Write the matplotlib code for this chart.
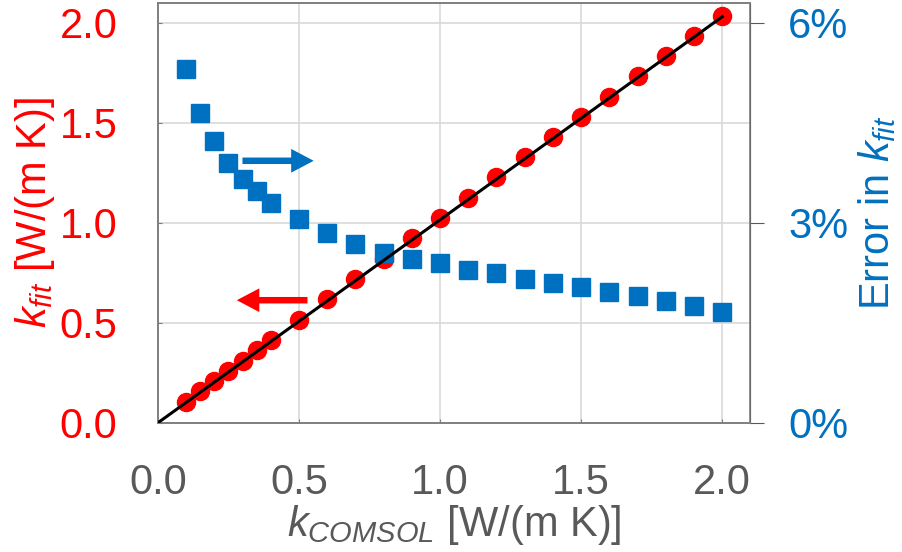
import matplotlib
matplotlib.use('Agg')
import matplotlib.pyplot as plt

plt.rcParams['font.family'] = 'Liberation Sans'
plt.rcParams['mathtext.fontset'] = 'custom'
plt.rcParams['mathtext.rm'] = 'Liberation Sans'
plt.rcParams['mathtext.it'] = 'Liberation Sans:italic'

# conductividade de referência (COMSOL) e valor ajustado
k_comsol = [0.1, 0.15, 0.2, 0.25, 0.3, 0.35, 0.4, 0.5, 0.6, 0.7, 0.8, 0.9,
            1.0, 1.1, 1.2, 1.3, 1.4, 1.5, 1.6, 1.7, 1.8, 1.9, 2.0]
k_fit = [0.105, 0.157, 0.208, 0.260, 0.311, 0.362, 0.413, 0.515, 0.617,
         0.719, 0.820, 0.922, 1.024, 1.125, 1.227, 1.328, 1.429, 1.531,
         1.631, 1.732, 1.833, 1.933, 2.033]
# erro relativo em k_fit (%)
erro_pct = [5.30, 4.65, 4.23, 3.90, 3.65, 3.47, 3.30, 3.05, 2.85, 2.68,
            2.55, 2.46, 2.39, 2.29, 2.24, 2.16, 2.10, 2.04, 1.96, 1.90,
            1.83, 1.75, 1.66]
# reta de referência
reta_x = [0.0, 2.0]
reta_y = [0.0, 2.03]

ticks_k = [0.0, 0.5, 1.0, 1.5, 2.0]
ticks_k_labels = ['0.0', '0.5', '1.0', '1.5', '2.0']
ticks_erro = [0, 3, 6]
ticks_erro_labels = ['0%', '3%', '6%']

VERMELHO = '#FF0000'
AZUL = '#0070C0'
CINZA = '#595959'
FS = 30

fig = plt.figure(figsize=(9.02, 5.52), dpi=100)
ax = fig.add_axes([0.175, 0.234, 0.657, 0.761])
ax2 = ax.twinx()

ax.plot(k_comsol, k_fit, 'o', color=VERMELHO, markersize=13, zorder=3)
ax2.plot(k_comsol, erro_pct, 's', color=AZUL, markersize=12.5, zorder=3)
ax2.plot(reta_x, reta_y, '-', color='black', linewidth=2.2, zorder=4,
         transform=ax.transData)

ax.set_xlim(0, 2.1)
ax.set_ylim(0, 2.1)
ax2.set_ylim(0, 6.3)

ax.set_xticks(ticks_k, ticks_k_labels)
ax.set_yticks(ticks_k, ticks_k_labels)
ax2.set_yticks(ticks_erro, ticks_erro_labels)

ax.grid(True, color='#d9d9d9', linewidth=1.2)
ax.set_axisbelow(True)

ax.tick_params(axis='x', colors=CINZA, labelsize=FS, direction='in', length=3, pad=29)
ax.tick_params(axis='y', colors=VERMELHO, labelsize=FS, direction='in', length=3, pad=29)
ax.tick_params(axis='y', color='#7f7f7f')
ax.tick_params(axis='x', color='#7f7f7f')
ax2.tick_params(axis='y', colors=AZUL, labelsize=FS, direction='out', length=10, pad=17)
ax2.tick_params(axis='y', color='#595959')

for s in ['left', 'bottom', 'top']:
    ax.spines[s].set_color('#7f7f7f')
    ax.spines[s].set_linewidth(1.2)
for s in ['left', 'bottom', 'top', 'right']:
    ax2.spines[s].set_color('#7f7f7f')
    ax2.spines[s].set_linewidth(1.2)

ax.set_xlabel(r'$k_{COMSOL}$ [W/(m K)]', fontsize=FS, color=CINZA, labelpad=0)
ax.set_ylabel(r'$k_{fit}$ [W/(m K)]', fontsize=FS, color=VERMELHO, labelpad=2)
ax2.set_ylabel(r'Error in $k_{fit}$', fontsize=FS, color=AZUL, labelpad=6)

# setas indicando o eixo de cada série
ax.annotate('', xy=(0.562, 1.31), xytext=(0.29, 1.31),
            arrowprops=dict(arrowstyle='simple,head_width=0.95,head_length=0.9,tail_width=0.26',
                            mutation_scale=18, color=AZUL, lw=0), zorder=5)
ax.annotate('', xy=(0.27, 0.613), xytext=(0.54, 0.613),
            arrowprops=dict(arrowstyle='simple,head_width=0.95,head_length=0.9,tail_width=0.26',
                            mutation_scale=18, color=VERMELHO, lw=0), zorder=5)

fig.savefig('out.png', dpi=100, facecolor='white')
